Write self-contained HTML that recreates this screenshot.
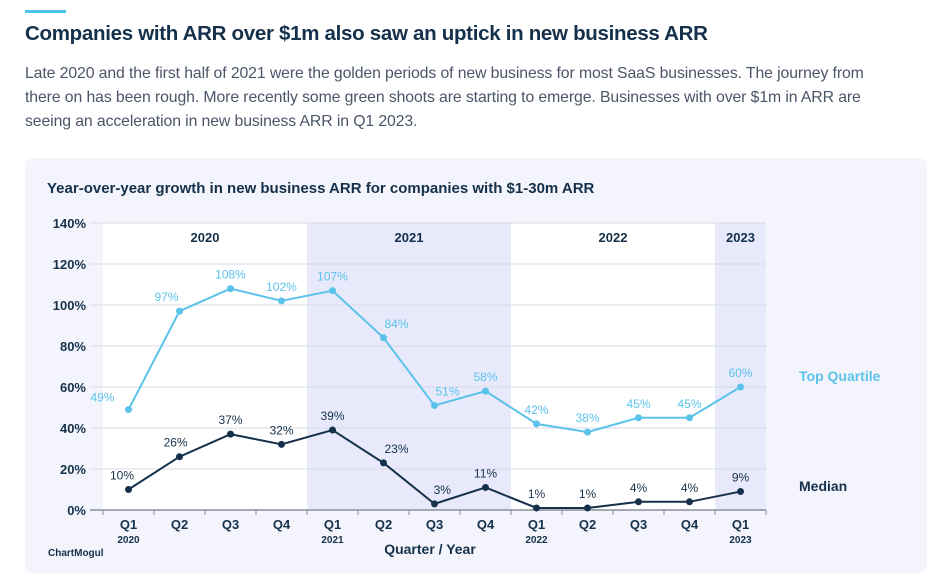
<!DOCTYPE html>
<html><head><meta charset="utf-8"><style>
body{margin:0;width:948px;height:588px;background:#fff;font-family:"Liberation Sans",sans-serif;position:relative;overflow:hidden}
.acc{position:absolute;left:25px;top:10px;width:41px;height:3px;background:#4cc3e8}
h1{position:absolute;left:25px;top:22px;margin:0;font-size:20.5px;color:#14304a;font-weight:bold;letter-spacing:-0.3px}
p{position:absolute;left:25px;top:62px;width:860px;margin:0;font-size:15.8px;line-height:24px;color:#4a5568;letter-spacing:-0.1px}
.card{position:absolute;left:25px;top:158px;width:902px;height:415px;background:#f4f5fc;border-radius:8px}
svg{position:absolute;left:0;top:0}
</style></head><body>
<div class="acc"></div>
<h1>Companies with ARR over $1m also saw an uptick in new business ARR</h1>
<p>Late 2020 and the first half of 2021 were the golden periods of new business for most SaaS businesses. The journey from there on has been rough. More recently some green shoots are starting to emerge. Businesses with over $1m in ARR are seeing an acceleration in new business ARR in Q1 2023.</p>
<div class="card"></div>
<svg id="c" width="948" height="588"></svg>
<script>
const quarters=["Q1","Q2","Q3","Q4","Q1","Q2","Q3","Q4","Q1","Q2","Q3","Q4","Q1"];
const yearsUnder={0:"2020",4:"2021",8:"2022",12:"2023"};
const years=["2020","2021","2022","2023"];
const yearStart=[0,4,8,12];
const yearLen=[4,4,4,1];
const topQuartile=[49,97,108,102,107,84,51,58,42,38,45,45,60];
const median=[10,26,37,32,39,23,3,11,1,1,4,4,9];
const yTicks=[0,20,40,60,80,100,120,140];
const topLabelShift=[-2,-1,0,0,0,1,1,0,0,0,0,0,0];
const medLabelShift=[-0.5,-0.3,0,0,0,1,0.6,0,0,0,0,0,0];
const NS="http://www.w3.org/2000/svg";
const svg=document.getElementById('c');
const X0=103,QW=51,Y0=510,YS=287/140;
const x=i=>X0+QW*(i+0.5);
const y=v=>Y0-v*YS;
function mk(t,a,txt){const e=document.createElementNS(NS,t);for(const k in a)e.setAttribute(k,a[k]);if(txt!==undefined)e.textContent=txt;svg.appendChild(e);return e;}
let t=mk('text',{x:47,y:193,'font-size':15,'font-weight':'bold',fill:'#14304a'},'Year-over-year growth in new business ARR for companies with $1-30m ARR');


years.forEach((yr,i)=>{
 const r=mk('rect',{x:X0+QW*yearStart[i],y:y(140),width:QW*yearLen[i],height:y(0)-y(140),fill:i%2?'#e8e9fb':'#ffffff'});
 
 
 const l=mk('text',{x:X0+QW*(yearStart[i]+yearLen[i]/2),y:242,'text-anchor':'middle','font-size':13,'font-weight':'bold',fill:'#14304a'},yr);
 
 
});
yTicks.forEach(v=>{
 const g=mk('line',{x1:90,x2:X0+QW*13,y1:y(v),y2:y(v),stroke:v?'#d9dbe4':'#8a8f9c','stroke-width':v?1:1.5});
 
 
 const l=mk('text',{x:86,y:y(v)+5,'text-anchor':'end','font-size':13,'font-weight':'bold',fill:'#14304a'},v+'%');
 
 
});
for(let i=0;i<=13;i++){const k=mk('line',{x1:X0+QW*i,x2:X0+QW*i,y1:Y0,y2:Y0+5,stroke:'#8a8f9c'});
 
 }
quarters.forEach((q,i)=>{
 const l=mk('text',{x:x(i),y:529,'text-anchor':'middle','font-size':13,'font-weight':'bold',fill:'#14304a'},q);
 
 
 if(yearsUnder[i]){const s=mk('text',{x:x(i),y:543,'text-anchor':'middle','font-size':10,'font-weight':'bold',fill:'#14304a'},yearsUnder[i]);
 
 }
});
t=mk('text',{x:430,y:554,'text-anchor':'middle','font-size':14,'font-weight':'bold',fill:'#14304a'},'Quarter / Year');


t=mk('text',{x:48,y:556,'font-size':10,'font-weight':'bold',fill:'#14304a'},'ChartMogul');


function series(vals,col,name,shift){
 const p=mk('polyline',{points:vals.map((v,i)=>x(i)+','+y(v)).join(' '),fill:'none',stroke:col,'stroke-width':2});
 
 
 vals.forEach((v,i)=>{
  const c=mk('circle',{cx:x(i),cy:y(v),r:3.5,fill:col});
  
  
  const s=shift[i];
  const lx=x(i)+s*13;
  const ly=(s<=-2)?y(v)-8:y(v)-10;
  const l=mk('text',{x:lx,y:ly,'text-anchor':'middle','font-size':12,fill:col},v+'%');
  
  
 });
}
series(topQuartile,'#5bc3ea','top',topLabelShift);
series(median,'#15304a','median',medLabelShift);
t=mk('text',{x:799,y:381,'font-size':14,'font-weight':'bold',fill:'#5bc3ea'},'Top Quartile');


t=mk('text',{x:799,y:491,'font-size':14,'font-weight':'bold',fill:'#15304a'},'Median');


</script>
</body></html>
